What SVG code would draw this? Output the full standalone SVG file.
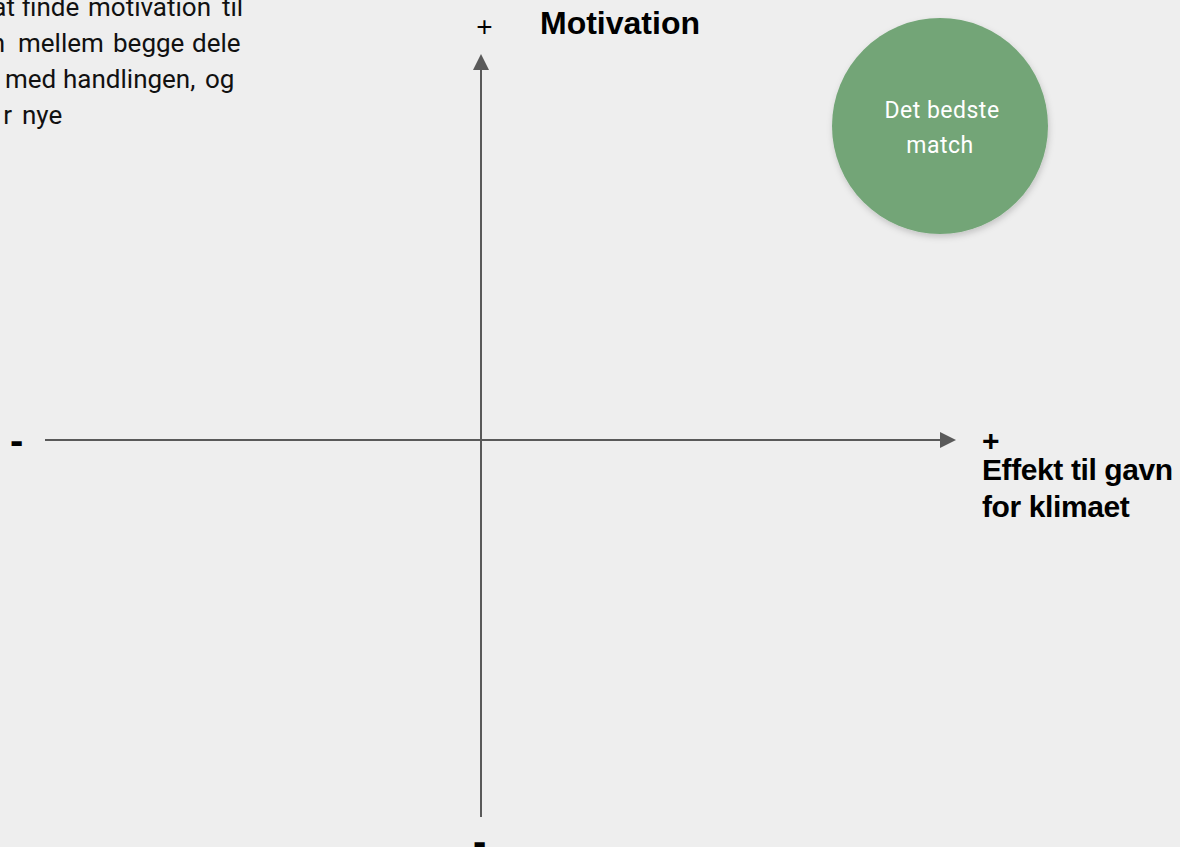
<svg xmlns="http://www.w3.org/2000/svg" width="1180" height="847" viewBox="0 0 1180 847">
  <style>
    .para { font-family: Roboto, "Liberation Sans", sans-serif; font-size: 26px; fill: #111; }
    .axis { stroke: #595959; stroke-width: 2; fill: none; }
    .head { fill: #595959; }
    .bold { font-family: "Liberation Sans", Arial, sans-serif; font-weight: 700; fill: #000; }
    .xl { font-size: 30px; letter-spacing: -0.4px; }
    .plain { font-family: "Liberation Sans", Arial, sans-serif; fill: #000; }
    .ctext { font-family: Roboto, "Liberation Sans", sans-serif; font-size: 23px; fill: #ffffff; text-anchor: middle; letter-spacing: 0.5px; }
  </style>
  <defs>
    <filter id="sh" x="-20%" y="-20%" width="140%" height="140%">
      <feDropShadow dx="1" dy="3" stdDeviation="3" flood-color="#000" flood-opacity="0.18"/>
    </filter>
  </defs>
  <rect x="0" y="0" width="1180" height="847" fill="#eeeeee"/>

  <g id="paragraph">
    <text class="para" y="16"><tspan x="15" text-anchor="end">at</tspan><tspan x="22">finde</tspan><tspan x="88">motivation</tspan><tspan x="222">til</tspan></text>
    <text class="para" y="52"><tspan x="5" text-anchor="end">n</tspan><tspan x="18">mellem</tspan><tspan x="113">begge</tspan><tspan x="192">dele</tspan></text>
    <text class="para" y="88"><tspan x="5">med</tspan><tspan x="63">handlingen,</tspan><tspan x="205">og</tspan></text>
    <text class="para" y="124"><tspan x="12" text-anchor="end">r</tspan><tspan x="22">nye</tspan></text>
  </g>

  <g id="connectors">
    <line class="axis" x1="481" y1="817" x2="481" y2="68"/>
    <polygon class="head" points="481,54 473,70 489,70"/>
    <line class="axis" x1="45" y1="440" x2="942" y2="440"/>
    <polygon class="head" points="956,440 940,432 940,448"/>
  </g>

  <g id="y-axis-label">
    <text class="plain" x="484.5" y="36" font-size="28" text-anchor="middle">+</text>
    <text class="bold" x="540" y="34" font-size="32">Motivation</text>
  </g>

  <g id="x-axis-label">
    <text class="bold xl" x="982" y="451">+</text>
    <text class="bold xl" x="982" y="480">Effekt til gavn</text>
    <text class="bold xl" x="982" y="517">for klimaet</text>
  </g>

  <g id="minus-left">
    <text class="bold" x="10" y="454" font-size="40">-</text>
  </g>
  <g id="minus-bottom">
    <text class="bold" x="473" y="855" font-size="40">-</text>
  </g>

  <g id="best-match">
    <circle cx="940" cy="126" r="108" fill="#73a577" filter="url(#sh)"/>
    <text class="ctext" x="942" y="118">Det bedste</text>
    <text class="ctext" x="940" y="153">match</text>
  </g>
</svg>
